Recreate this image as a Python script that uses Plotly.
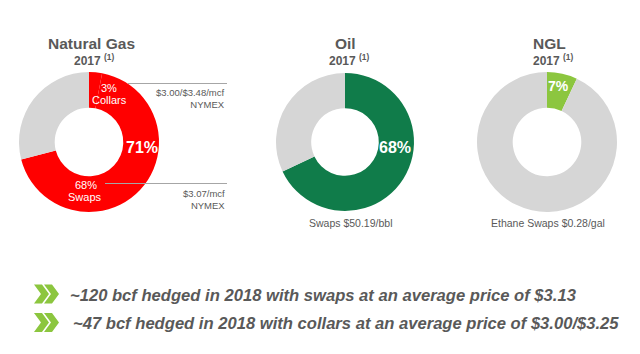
import plotly.graph_objects as go

W, H = 640, 354

# ---- data ----
ng_labels = ["Collars", "Swaps", "Unhedged"]
ng_values = [3, 68, 29]
oil_labels = ["Swaps", "Unhedged"]
oil_values = [68, 32]
ngl_labels = ["Ethane Swaps", "Unhedged"]
ngl_values = [7, 93]

titles = ["Natural Gas", "Oil", "NGL"]
year = "2017"
ng_price_notes = ["$3.00/$3.48/mcf<br>NYMEX", "$3.07/mcf<br>NYMEX"]
oil_note = "Swaps $50.19/bbl"
ngl_note = "Ethane Swaps $0.28/gal"
bullets = [
    "~120 bcf hedged in 2018 with swaps at an average price of $3.13",
    "~47 bcf hedged in 2018 with collars at an average price of $3.00/$3.25",
]

RED = "#FF0000"
GREEN = "#107C4A"
LGREEN = "#8CC63F"
GRAY = "#D6D6D6"
TXT = "#595959"
FONT = "Liberation Sans, Arial, sans-serif"


def px(x):
    return x / W


def py(y):
    return 1 - y / H


def dom(cx, cy, r):
    return dict(x=[px(cx - r), px(cx + r)], y=[py(cy + r), py(cy - r)])


fig = go.Figure()
common = dict(hole=0.49, sort=False, direction="clockwise", rotation=0,
              textinfo="none", hoverinfo="label+percent", showlegend=False,
              marker_line_width=0)
fig.add_trace(go.Pie(labels=ng_labels, values=ng_values,
                     marker_colors=[RED, RED, GRAY], domain=dom(89, 142, 70), **common))
fig.add_trace(go.Pie(labels=oil_labels, values=oil_values,
                     marker_colors=[GREEN, GRAY], domain=dom(345, 142, 69), **common))
fig.add_trace(go.Pie(labels=ngl_labels, values=ngl_values,
                     marker_colors=[LGREEN, GRAY], domain=dom(547, 142, 70), **common))

ann = []


def A(x, y, text, size, color=TXT, bold=False, italic=False, xanchor="center",
      family=FONT, align="center"):
    ann.append(dict(x=px(x), y=py(y), xref="paper", yref="paper", text=text,
                    showarrow=False, xanchor=xanchor, yanchor="middle", align=align,
                    font=dict(family=family, size=size, color=color,
                              weight="bold" if bold else "normal",
                              style="italic" if italic else "normal")))


# titles
for (cx, t) in zip([91, 345, 549], titles):
    A(cx, 44, t, 15.5, bold=True)
for cx in [94, 349, 553]:
    A(cx, 60, year + " <sup>(1)</sup>", 12, bold=True)

# NG inside labels
A(109, 88, f"{ng_values[0]}%", 11, color="white")
A(109, 99.5, ng_labels[0], 11, color="white")
A(142, 147, f"{ng_values[0] + ng_values[1]}%", 16, color="white", bold=True)
A(86, 185, f"{ng_values[1]}%", 11, color="white")
A(85, 196.5, ng_labels[1], 11, color="white")

# NG price notes
A(227, 98, ng_price_notes[0], 9.5, xanchor="right", align="right")
A(227, 199, ng_price_notes[1], 9.5, xanchor="right", align="right")

# Oil and NGL
A(395, 147, f"{oil_values[0]}%", 16, color="white", bold=True)
A(350, 223, oil_note, 10.5)
A(558, 86, f"{ngl_values[0]}%", 14, color="white", bold=True)
A(548, 223, ngl_note, 10.5)

# bullets
for (x, y, t) in zip([68, 71], [295, 323], bullets):
    A(x, y, t, 16.6, bold=True, italic=True, xanchor="left")

shapes = [
    dict(type="line", xref="paper", yref="paper", x0=px(128), x1=px(227),
         y0=py(83.5), y1=py(83.5), line=dict(color="#A6A6A6", width=1)),
    dict(type="line", xref="paper", yref="paper", x0=px(105), x1=px(227),
         y0=py(183.5), y1=py(183.5), line=dict(color="#A6A6A6", width=1)),
]


def chevron(x0, ymid, h=19, w=8, d=7):
    y0, y1 = ymid - h / 2, ymid + h / 2
    pts = [(x0, y0), (x0 + w, y0), (x0 + w + d, ymid), (x0 + w, y1), (x0, y1), (x0 + d, ymid)]
    path = "M " + " L ".join(f"{px(a):.5f},{py(b):.5f}" for a, b in pts) + " Z"
    return dict(type="path", xref="paper", yref="paper", path=path,
                fillcolor=LGREEN, line=dict(width=0))


for ym in [294, 322.5]:
    shapes.append(chevron(34, ym))
    shapes.append(chevron(44, ym))

fig.update_layout(width=W, height=H, margin=dict(l=0, r=0, t=0, b=0),
                  paper_bgcolor="white", plot_bgcolor="white",
                  annotations=ann, shapes=shapes)

fig.write_html("out.html")
